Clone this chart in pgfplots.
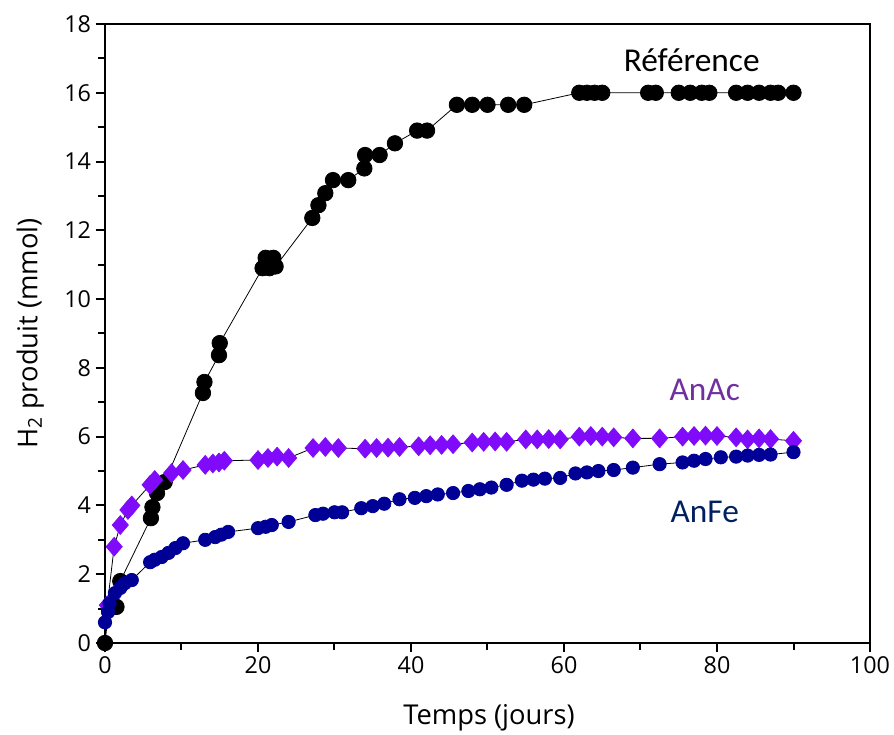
\documentclass[border=0pt]{standalone}
\usepackage{pgfplots}
\pgfplotsset{compat=1.18}
\usepackage{fontspec}
\setmainfont{Open Sans}
\newfontfamily\calib{Carlito}
\definecolor{anac}{RGB}{128,10,250}
\definecolor{anfe}{RGB}{0,0,150}
\definecolor{anaclab}{RGB}{112,48,160}
\definecolor{anfelab}{RGB}{0,32,96}
\begin{document}
\begin{tikzpicture}
\begin{axis}[
  scale only axis, width=573.75pt, height=464.25pt,
  xmin=0, xmax=100, ymin=0, ymax=18,
  xtick={0,20,...,100}, ytick={0,2,...,18},
  minor xtick={10,30,50,70,90}, minor ytick={1,3,...,17},
  tick align=outside, tick pos=left,
  major tick length=7pt, minor tick length=5pt,
  every tick/.style={black, line width=1.5pt},
  axis line style={line width=1.6pt},
  tick label style={font=\fontsize{17.5}{20}\selectfont},
  /pgf/number format/assume math mode=true,
  xlabel={Temps (jours)}, ylabel={H\textsubscript{2} produit (mmol)},
  label style={font=\fontsize{20.5}{24}\selectfont},
  xlabel style={at={(axis description cs:0.502,-0.1206)}, anchor=center},
  ylabel style={at={(axis description cs:-0.0976,0.5)}, anchor=center},
  clip=false,
]
\addplot[black, line width=0.6pt, mark=*, mark size=5.8pt, mark options={fill=black, draw=black}] coordinates {
(0,0) (0.5,1.0) (1,1.05) (1.5,1.05) (2,1.8) (6,3.63) (6.2,3.95) (6.8,4.36) (7.8,4.68)
(12.8,7.27) (13,7.59) (14.9,8.37) (15,8.72) (20.6,10.9) (21,11.2) (21.5,10.9) (22,11.2) (22.3,10.95)
(27.1,12.36) (27.9,12.73) (28.8,13.08) (29.8,13.46) (31.8,13.46) (33.9,13.8) (34,14.19) (35.9,14.19)
(37.9,14.53) (40.8,14.9) (42.1,14.9) (46,15.65) (48,15.65) (50,15.65) (52.7,15.65) (54.8,15.65)
(62,16) (63,16) (64,16) (65,16) (71,16) (72,16) (75,16) (76.5,16) (78,16) (79,16)
(82.5,16) (84,16) (85.5,16) (87,16) (88,16) (90,16)
};
\addplot[black, line width=0.6pt, mark=diamond*, mark size=7pt, mark options={fill=anac, draw=anac, xscale=1.15}] coordinates {
(0.3,1.1) (1.2,2.8) (2,3.43) (3,3.87) (3.5,4.0) (5.9,4.6) (6.5,4.74) (8.7,4.94) (10.2,5.03)
(13.1,5.18) (14.1,5.22) (14.9,5.25) (15.6,5.3) (20,5.32) (21.3,5.38) (22.5,5.42) (24,5.38)
(27.2,5.67) (28.8,5.7) (30.5,5.67) (34,5.65) (35.5,5.67) (37,5.68) (38.5,5.7)
(41,5.72) (42.5,5.75) (44,5.76) (45.5,5.78) (48,5.83) (49.5,5.85) (51,5.86) (52.5,5.85)
(55,5.92) (56.5,5.92) (58,5.93) (59.5,5.92) (62,6.0) (63.5,6.02) (65,6.0) (66.5,5.98)
(69,5.95) (72.5,5.95) (75.5,6.0) (77,6.02) (78.5,6.03) (80,6.02) (82.5,5.98) (84,5.92)
(85.5,5.95) (87,5.93) (90,5.88)
};
\addplot[black, line width=0.6pt, mark=*, mark size=5pt, mark options={fill=anfe, draw=anfe}] coordinates {
(0,0.6) (0.4,0.9) (0.6,1.15) (1.3,1.45) (2,1.6) (2.6,1.74) (3.5,1.83) (5.9,2.35) (6.5,2.42)
(7.4,2.5) (8.3,2.62) (9.2,2.76) (10.2,2.9) (13.1,3.0) (14.4,3.08) (15.2,3.15) (16.1,3.23)
(20,3.34) (21,3.38) (21.8,3.43) (24,3.52) (27.5,3.72) (28.5,3.76) (30,3.8) (31,3.8)
(33.5,3.92) (35,3.98) (36.5,4.05) (38.5,4.18) (40.5,4.22) (42,4.27) (43.5,4.32) (45.5,4.36)
(47.5,4.42) (49,4.47) (50.5,4.52) (52.5,4.6) (54.5,4.72) (56,4.75) (57.5,4.78) (59.5,4.8)
(61.5,4.93) (63,4.96) (64.5,5.0) (66.5,5.03) (69,5.1) (72.5,5.2) (75.5,5.25) (77,5.3)
(78.5,5.35) (80.5,5.4) (82.5,5.42) (84,5.45) (85.5,5.47) (87,5.48) (90,5.55)
};
\draw[line width=1.6pt] (rel axis cs:0,1) -- (rel axis cs:1,1) -- (rel axis cs:1,0);
\node[font=\calib\fontsize{25}{28}\selectfont] at (axis cs:76.7,16.95) {Référence};
\node[font=\calib\fontsize{25}{28}\selectfont, text=anaclab] at (axis cs:78.4,7.35) {AnAc};
\node[font=\calib\fontsize{25}{28}\selectfont, text=anfelab] at (axis cs:78.4,3.8) {AnFe};
\end{axis}
\pgfresetboundingbox
\path (-78.75pt,-69pt) rectangle (591.75pt,482.25pt);
\end{tikzpicture}
\end{document}
